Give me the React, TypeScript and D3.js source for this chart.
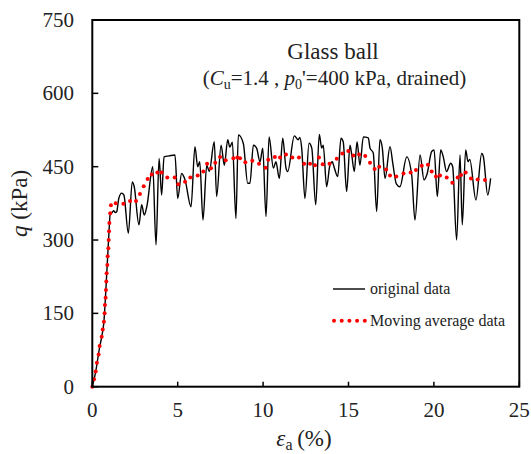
import React from "react";
import * as d3 from "d3";

const origStrain = [0,0.2,0.4,0.55,0.68,0.75,0.82,0.9,0.98,1.04,1.15,1.25,1.35,1.43,1.55,1.72,1.85,2.11,2.34,2.45,2.73,2.89,3.04,3.2,3.54,3.73,3.91,4.06,4.2,4.5,4.84,5.0,5.23,5.43,5.78,6.01,6.17,6.29,6.48,6.7,6.85,7.14,7.28,7.54,7.73,7.93,8.05,8.2,8.41,8.55,8.84,9.1,9.23,9.43,9.62,9.82,9.98,10.17,10.35,10.6,10.75,10.95,11.15,11.34,11.44,11.83,12.06,12.15,12.26,12.45,12.69,12.85,13.08,13.29,13.43,13.52,13.72,13.91,14.05,14.15,14.37,14.56,14.69,14.89,15.09,15.19,15.34,15.5,15.67,15.87,16.16,16.26,16.45,16.65,16.84,16.98,17.14,17.43,17.6,17.8,18.01,18.41,18.7,18.89,19.19,19.42,19.6,19.87,20.01,20.2,20.4,20.55,20.74,20.98,21.1,21.33,21.53,21.66,21.86,22.0,22.1,22.46,22.8,22.9,23.15,23.32];
const origQ = [0,31,75,102,133,170,215,267,318,351,356,360,356,358,385,396,392,314,419,410,331,372,351,370,450,290,467,392,470,472,474,385,436,423,368,491,450,460,341,453,440,501,389,494,453,505,490,500,344,515,498,416,416,494,488,460,488,348,511,447,460,426,508,447,440,513,505,510,488,385,498,488,372,516,488,494,409,453,460,450,430,508,501,399,494,474,440,501,453,511,509,488,478,358,505,488,426,491,455,415,409,470,433,341,474,423,435,481,484,389,484,470,440,457,450,300,474,331,484,460,465,382,477,470,392,426];

const avgStrain = [0,0.1,0.2,0.27,0.37,0.43,0.55,0.61,0.68,0.72,0.74,0.78,0.8,0.82,0.84,0.88,0.9,0.94,0.96,0.98,1.0,1.05,1.09,1.37,1.82,2.21,2.56,2.79,3.01,3.24,3.48,3.81,4.06,4.39,4.82,5.03,5.43,5.74,6.17,6.5,6.72,6.95,7.2,7.48,7.81,8.26,8.49,8.65,8.96,9.37,9.76,10.15,10.3,10.69,10.99,11.34,11.71,12.1,12.4,12.75,13.04,13.27,13.49,13.89,14.31,14.64,14.99,15.28,15.62,15.98,16.26,16.53,16.8,17.2,17.43,17.8,18.22,18.64,18.95,19.29,19.65,19.87,20.12,20.36,20.75,21.08,21.39,21.59,21.86,22.17,22.56,22.99];
const avgQ = [0,15,31,49,66,83,102,117,133,150,167,182,198,215,232,249,267,283,300,318,335,355,371,375,374,380,380,394,410,425,434,438,438,428,428,414,419,428,432,440,456,447,458,470,463,467,469,467,459,462,456,448,464,470,469,475,469,469,456,456,453,469,455,456,466,477,482,473,475,472,458,445,450,444,432,430,436,438,443,452,454,440,430,432,428,417,428,433,438,426,424,423];

const xTicks = [0, 5, 10, 15, 20, 25];
const yTicks = [0, 150, 300, 450, 600, 750];

const FONT = '"Liberation Serif", "DejaVu Serif", "Times New Roman", serif';
const tf = { fontFamily: FONT };

export default function App() {
  const L = 92.3, R = 519.3, T = 20, B = 386.7;
  const x = d3.scaleLinear().domain([0, 25]).range([L, R]);
  const y = d3.scaleLinear().domain([0, 750]).range([B, T]);

  const orig = origStrain.map((s, i) => [s, origQ[i]] as [number, number]);
  const lineGen = d3
    .line<[number, number]>()
    .x((d) => x(d[0]))
    .y((d) => y(d[1]))
    .curve(d3.curveMonotoneX);

  const legendDots = d3.range(5).map((i) => 334 + i * 7.7);

  return (
    <svg
      width={531}
      height={454}
      style={{ position: "absolute", left: 0, top: 0, background: "#fff" }}
    >
      <rect x={0} y={0} width={531} height={454} fill="#fff" />
      {/* original data */}
      <path d={lineGen(orig) || ""} fill="none" stroke="#000" strokeWidth={1.4} />
      {/* moving average */}
      {avgStrain.map((s, i) => (
        <circle key={i} cx={x(s)} cy={y(avgQ[i])} r={2} fill="#ff0000" />
      ))}

      {/* frame */}
      <rect x={L} y={T} width={R - L} height={B - T} fill="none" stroke="#000" strokeWidth={2} />
      {xTicks.map((t) => (
        <g key={"x" + t}>
          <line x1={x(t)} x2={x(t)} y1={B} y2={B - 5} stroke="#000" strokeWidth={1.5} />
          <text x={x(t)} y={417} textAnchor="middle" fontSize={21} fill="#222" style={tf}>
            {t}
          </text>
        </g>
      ))}
      {yTicks.map((t) => (
        <g key={"y" + t}>
          <line x1={L} x2={L + 6} y1={y(t)} y2={y(t)} stroke="#000" strokeWidth={1.5} />
          <text x={74} y={y(t) + 7} textAnchor="end" fontSize={21} fill="#222" style={tf}>
            {t}
          </text>
        </g>
      ))}

      {/* axis titles */}
      <text x={304} y={446} textAnchor="middle" fontSize={23} fill="#222" style={tf}>
        <tspan fontStyle="italic">ε</tspan>
        <tspan fontSize={16} dy={4}>a</tspan>
        <tspan dy={-4}>{"\u2009(%)"}</tspan>
      </text>
      <text
        transform={`translate(27,${(T + B) / 2}) rotate(-90)`}
        textAnchor="middle"
        fontSize={23}
        fill="#222"
        style={tf}
      >
        <tspan fontStyle="italic">q</tspan> (kPa)
      </text>

      {/* title */}
      <text x={333} y={59} textAnchor="middle" fontSize={23} fill="#222" style={tf}>
        Glass ball
      </text>
      <text x={334.5} y={85} textAnchor="middle" fontSize={21} fill="#222" style={tf}>
        (<tspan fontStyle="italic">C</tspan>
        <tspan fontSize={14} dy={4}>u</tspan>
        <tspan dy={-4}>=1.4 , </tspan>
        <tspan fontStyle="italic">p</tspan>
        <tspan fontSize={14} dy={4}>0</tspan>
        <tspan dy={-4}>'=400 kPa, drained)</tspan>
      </text>

      {/* legend */}
      <line x1={333} x2={365} y1={289} y2={289} stroke="#000" strokeWidth={1.4} />
      <text x={370} y={294} fontSize={16} fill="#222" style={tf}>
        original data
      </text>
      {legendDots.map((cx, i) => (
        <circle key={i} cx={cx} cy={320.7} r={2} fill="#ff0000" />
      ))}
      <text x={370} y={326} fontSize={16} fill="#222" style={tf}>
        Moving average data
      </text>
    </svg>
  );
}
